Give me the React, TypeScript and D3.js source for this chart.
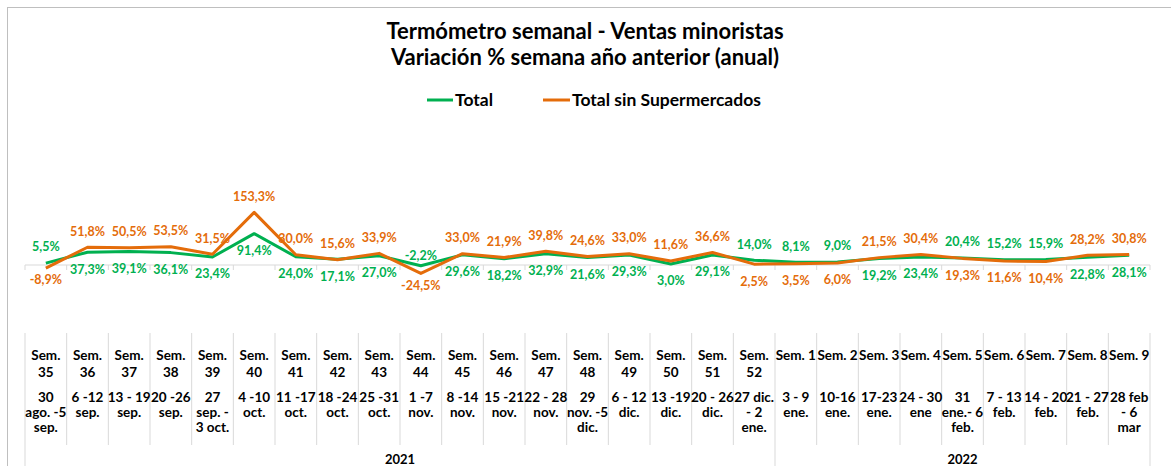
import React from "react";
import * as d3 from "d3";

const weekLines: string[][] = [
  ["Sem.", "35"], ["Sem.", "36"], ["Sem.", "37"], ["Sem.", "38"], ["Sem.", "39"],
  ["Sem.", "40"], ["Sem.", "41"], ["Sem.", "42"], ["Sem.", "43"], ["Sem.", "44"],
  ["Sem.", "45"], ["Sem.", "46"], ["Sem.", "47"], ["Sem.", "48"], ["Sem.", "49"],
  ["Sem.", "50"], ["Sem.", "51"], ["Sem.", "52"],
  ["Sem. 1"], ["Sem. 2"], ["Sem. 3"], ["Sem. 4"], ["Sem. 5"], ["Sem. 6"],
  ["Sem. 7"], ["Sem. 8"], ["Sem. 9"],
];

const dateLines: string[][] = [
  ["30", "ago. -5", "sep."], ["6 -12", "sep."], ["13 - 19", "sep."], ["20 -26", "sep."],
  ["27", "sep. -", "3 oct."], ["4 -10", "oct."], ["11 -17", "oct."], ["18 -24", "oct."],
  ["25 -31", "oct."], ["1 -7", "nov."], ["8 -14", "nov."], ["15 -21", "nov."],
  ["22 - 28", "nov."], ["29", "nov. -5", "dic."], ["6 - 12", "dic."], ["13 -19", "dic."],
  ["20 - 26", "dic."], ["27 dic.", "- 2", "ene."],
  ["3 - 9", "ene."], ["10-16", "ene."], ["17-23", "ene."], ["24 - 30", "ene"],
  ["31", "ene.- 6", "feb."], ["7 - 13", "feb."], ["14 - 20", "feb."], ["21 - 27", "feb."],
  ["28 feb", "- 6", "mar"],
];

const years = ["2021", "2022"];
const yearCounts = [18, 9];

const total = [5.5, 37.3, 39.1, 36.1, 23.4, 91.4, 24.0, 17.1, 27.0, -2.2, 29.6, 18.2, 32.9, 21.6, 29.3, 3.0, 29.1, 14.0, 8.1, 9.0, 19.2, 23.4, 20.4, 15.2, 15.9, 22.8, 28.1];
const sinSuper = [-8.9, 51.8, 50.5, 53.5, 31.5, 153.3, 30.0, 15.6, 33.9, -24.5, 33.0, 21.9, 39.8, 24.6, 33.0, 11.6, 36.6, 2.5, 3.5, 6.0, 21.5, 30.4, 19.3, 11.6, 10.4, 28.2, 30.8];

// weeks where the "sin Supermercados" label sits on top although its value is lower
const swappedLabelWeeks = ["42"];

const seriesNames = ["Total", "Total sin Supermercados"];
const GREEN = "#00B050";
const ORANGE = "#E46C0A";
const FONT = "Lato, 'Open Sans', sans-serif";

const W = 1171;
const H = 466;

export default function App() {
  const idx = d3.range(total.length);
  const x = d3.scaleBand<number>().domain(idx).range([25, 1150]).paddingInner(0).paddingOuter(0);
  const y = d3.scaleLinear().domain([0, 100]).range([265, 230.7]);
  const cx = (i: number) => (x(i) as number) + x.bandwidth() / 2;
  const line = d3.line<number>().x((_, i) => cx(i)).y((v) => y(v));
  const fmt = (v: number) => d3.format(".1f")(v).replace(".", ",").replace("−", "-") + "%";
  const boundaries = d3.range(total.length + 1).map((i) => 25 + i * x.bandwidth());
  const yearStarts = [0, yearCounts[0], yearCounts[0] + yearCounts[1]];

  const labels: React.ReactNode[] = [];
  idx.forEach((i) => {
    const pairs = [
      { v: total[i], c: GREEN, k: "g" },
      { v: sinSuper[i], c: ORANGE, k: "o" },
    ];
    let greenOnTop = total[i] >= sinSuper[i];
    if (swappedLabelWeeks.includes(weekLines[i][weekLines[i].length - 1])) greenOnTop = !greenOnTop;
    pairs.forEach((p) => {
      const above = (p.k === "g") === greenOnTop;
      const base = y(p.v);
      const off = above ? (p.v < 0 ? -10 : -16) : (p.v < 0 ? 12 : 17);
      labels.push(
        <text key={p.k + i} x={cx(i)} y={base + off} dy="0.35em" textAnchor="middle"
          fill={p.c} fontFamily={FONT} fontWeight="bold" fontSize={12.5}>
          {fmt(p.v)}
        </text>
      );
    });
  });

  return (
    <svg width={W} height={H} style={{ position: "absolute", left: 0, top: 0 }}>
      <rect x={0} y={0} width={W} height={H} fill="#fff" />
      <line x1={7} y1={7.5} x2={W} y2={7.5} stroke="#bfbfbf" />
      <line x1={7.5} y1={7} x2={7.5} y2={H} stroke="#bfbfbf" />

      <text x={585} y={31} dy="0.35em" textAnchor="middle" fontFamily={FONT} fontWeight="bold" fontSize={22} fill="#000">
        Termómetro semanal - Ventas minoristas
      </text>
      <text x={585} y={57} dy="0.35em" textAnchor="middle" fontFamily={FONT} fontWeight="bold" fontSize={22} fill="#000">
        Variación % semana año anterior (anual)
      </text>

      <g fontFamily={FONT} fontWeight="bold" fontSize={17.5} fill="#000">
        <line x1={427} x2={453} y1={100} y2={100} stroke={GREEN} strokeWidth={3} />
        <text x={455} y={100} dy="0.35em">{seriesNames[0]}</text>
        <line x1={543} x2={570} y1={100} y2={100} stroke={ORANGE} strokeWidth={3} />
        <text x={572} y={100} dy="0.35em">{seriesNames[1]}</text>
      </g>

      <line x1={25} x2={1150} y1={y(0)} y2={y(0)} stroke="#d9d9d9" />
      {boundaries.map((b, i) => (
        <line key={"t" + i} x1={b} x2={b} y1={y(0)} y2={y(0) + 5} stroke="#d9d9d9" />
      ))}

      <path d={line(total) || ""} fill="none" stroke={GREEN} strokeWidth={3} strokeLinejoin="round" />
      <path d={line(sinSuper) || ""} fill="none" stroke={ORANGE} strokeWidth={3} strokeLinejoin="round" />
      {labels}

      {boundaries.map((b, i) => {
        const isYear = yearStarts.includes(i);
        return <line key={"s" + i} x1={b} x2={b} y1={333} y2={isYear ? H : 445} stroke="#d9d9d9" />;
      })}
      <g fontFamily={FONT} fontWeight="bold" fontSize={13.5} fill="#000" textAnchor="middle">
        {idx.map((i) => (
          <g key={"c" + i}>
            {weekLines[i].map((s, j) => (
              <text key={j} x={cx(i)} y={355 + j * 17} dy="0.35em">{s}</text>
            ))}
            {dateLines[i].map((s, j) => (
              <text key={"d" + j} x={cx(i)} y={397 + j * 15} dy="0.35em">{s}</text>
            ))}
          </g>
        ))}
      </g>
      <g fontFamily={FONT} fontWeight="bold" fontSize={13} fill="#000" textAnchor="middle">
        {years.map((yr, k) => (
          <text key={yr} x={(boundaries[yearStarts[k]] + boundaries[yearStarts[k + 1]]) / 2} y={459} dy="0.35em">{yr}</text>
        ))}
      </g>
    </svg>
  );
}
